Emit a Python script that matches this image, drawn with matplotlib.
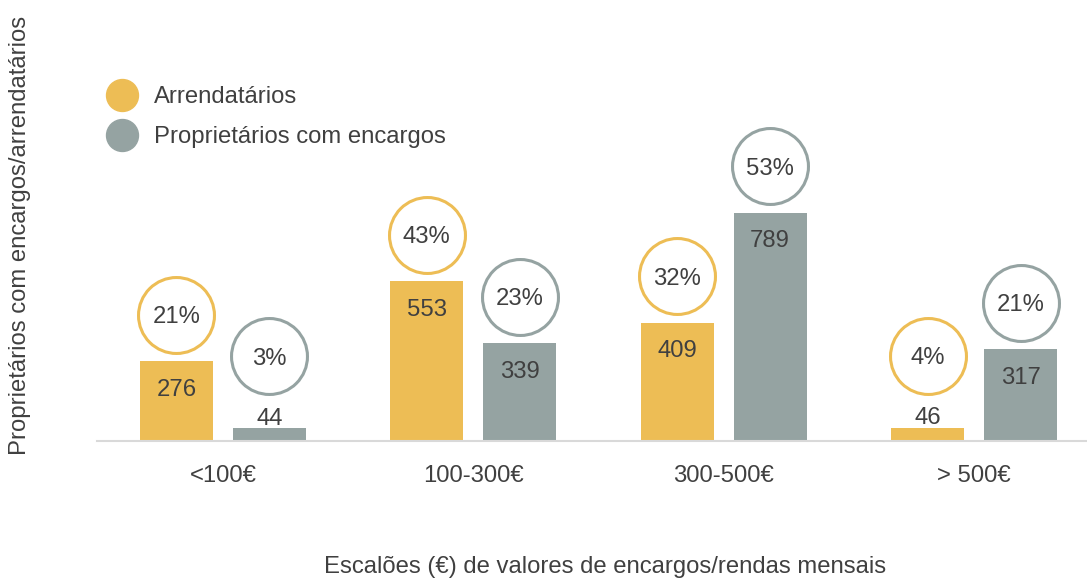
import numpy as np
import matplotlib.pyplot as plt
from matplotlib.lines import Line2D

plt.rcParams['font.family'] = ['Liberation Sans', 'DejaVu Sans']

# data
categories = ['<100€', '100-300€', '300-500€', '> 500€']
arrendatarios = [276, 553, 409, 46]
proprietarios = [44, 339, 789, 317]
pct_arrend = [21, 43, 32, 4]
pct_propr = [3, 23, 53, 21]

YELLOW = '#EDBD55'
GREY = '#95A3A2'
TXT = '#404040'
FS = 17.2

W, H = 1087, 578
fig = plt.figure(figsize=(W / 100, H / 100), dpi=100)
# axes in pixel terms: left 97, right 1087, bottom 441, top 60
ax = fig.add_axes([97 / W, (H - 441) / H, (1087 - 97) / W, (441 - 60) / H])

x = np.arange(len(categories))
bw = 0.291
off = 0.1856
px_per_unit = 0.289
ymax = (441 - 60) / px_per_unit


def draw_series(xpos, vals, pcts, color):
    ax.bar(xpos, vals, width=bw, color=color, zorder=2)
    for xi, v, p in zip(xpos, vals, pcts):
        if v > 100:
            ax.text(xi, v - 26 / px_per_unit, str(v), ha='center', va='center_baseline',
                    fontsize=FS, color=TXT, zorder=4)
            cy = v + 46.5 / px_per_unit
        else:
            ax.text(xi, v + 12 / px_per_unit, str(v), ha='center', va='center_baseline',
                    fontsize=FS, color=TXT, zorder=4)
            cy = v + 72 / px_per_unit
        ax.scatter([xi], [cy], s=2990, facecolor='white', edgecolor=color,
                   linewidth=2.2, zorder=3, clip_on=False)
        ax.text(xi, cy, f'{p}%', ha='center', va='center_baseline', fontsize=FS,
                color=TXT, zorder=4)


draw_series(x - off, arrendatarios, pct_arrend, YELLOW)
draw_series(x + off, proprietarios, pct_propr, GREY)

ax.set_xlim(-0.503, 3.451)
ax.set_ylim(0, ymax)
ax.set_xticks(x)
ax.set_xticklabels(categories, fontsize=FS, color=TXT)
ax.tick_params(axis='x', length=0, pad=17)
ax.set_yticks([])
for s in ['top', 'right', 'left']:
    ax.spines[s].set_visible(False)
ax.spines['bottom'].set_color('#D9D9D9')
ax.spines['bottom'].set_linewidth(1.5)

fig.text(20 / W, 1 - 235 / H, 'Proprietários com encargos/arrendatários',
         rotation=90, ha='center', va='center', fontsize=FS, color=TXT)
fig.text(605 / W, 1 - 567 / H, 'Escalões (€) de valores de encargos/rendas mensais',
         ha='center', va='center', fontsize=FS, color=TXT)

handles = [Line2D([], [], marker='o', linestyle='none', markersize=23,
                  markerfacecolor=YELLOW, markeredgecolor=YELLOW),
           Line2D([], [], marker='o', linestyle='none', markersize=23,
                  markerfacecolor=GREY, markeredgecolor=GREY)]
leg = fig.legend(handles, ['Arrendatários', 'Proprietários com encargos'],
                 loc='upper left', bbox_to_anchor=(106 / W, 1 - 86 / H),
                 frameon=False, fontsize=FS, borderpad=0, borderaxespad=0,
                 handlelength=1.35, handletextpad=0.65, labelspacing=0.76)
for t in leg.get_texts():
    t.set_color(TXT)

fig.savefig('out.png', dpi=100)
